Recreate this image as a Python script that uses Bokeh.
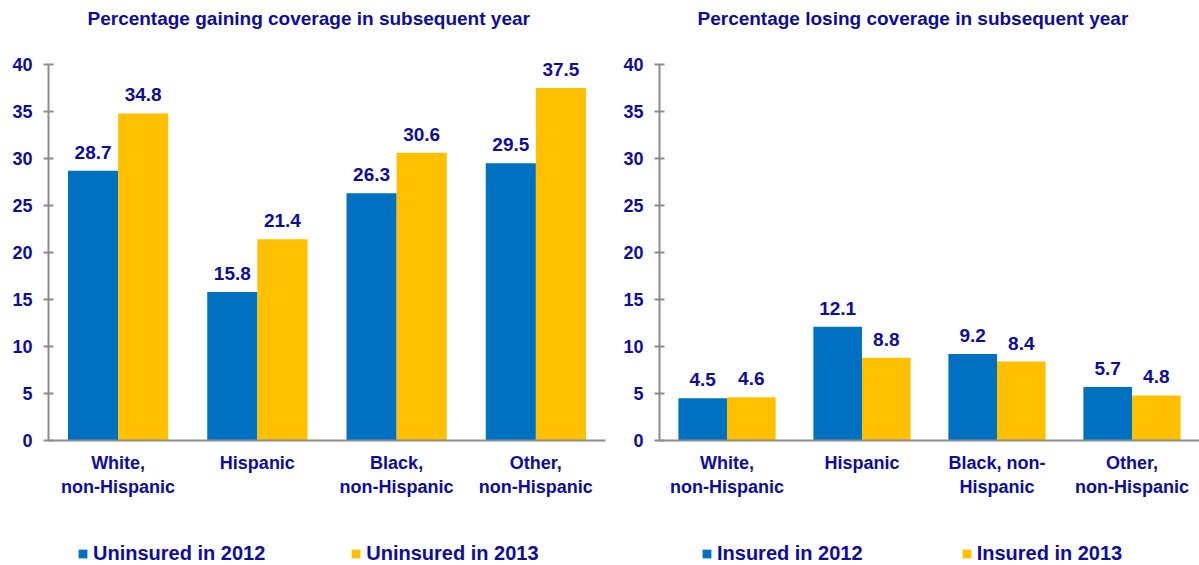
from bokeh.plotting import figure
from bokeh.models import (FactorRange, Range1d, FixedTicker, LabelSet, Label,
                          Legend, LegendItem, ColumnDataSource)
from bokeh.core.properties import value
from bokeh.transform import dodge
from bokeh.layouts import row, column
from bokeh.embed import file_html
from bokeh.resources import INLINE

# ---------------- data ----------------
categories_gain = ["White,\nnon-Hispanic", "Hispanic", "Black,\nnon-Hispanic", "Other,\nnon-Hispanic"]
categories_lose = ["White,\nnon-Hispanic", "Hispanic", "Black, non-\nHispanic", "Other,\nnon-Hispanic"]
uninsured_2012 = [28.7, 15.8, 26.3, 29.5]
uninsured_2013 = [34.8, 21.4, 30.6, 37.5]
insured_2012 = [4.5, 12.1, 9.2, 5.7]
insured_2013 = [4.6, 8.8, 8.4, 4.8]
y_ticks = [0, 5, 10, 15, 20, 25, 30, 35, 40]
title_gain = "Percentage gaining coverage in subsequent year"
title_lose = "Percentage losing coverage in subsequent year"
legend_gain = ["Uninsured in 2012", "Uninsured in 2013"]
legend_lose = ["Insured in 2012", "Insured in 2013"]

# ---------------- style / layout ----------------
FONT = "Liberation Sans"
NAVY = "#0C0C9E"
BLUE = "#0070C0"
GOLD = "#FFC000"
GRAY = "#8C8C8C"
H_MAIN = 530          # chart figures
H_LEG = 35            # legend strip below
FRAME_H = 440         # frame spans canvas top .. x-axis
PX_PER_UNIT = 376 / 40
Y_TOP = FRAME_H / PX_PER_UNIT
TITLE_Y = (FRAME_H - 18) / PX_PER_UNIT


def make_panel(cats, v12, v13, title, width, b_left, b_right, frame_w, title_px):
    src = ColumnDataSource(dict(cat=cats, v12=v12, v13=v13,
                                t12=[f"{v:.1f}" for v in v12],
                                t13=[f"{v:.1f}" for v in v13]))
    p = figure(x_range=FactorRange(*cats), y_range=Range1d(0, Y_TOP),
               width=width, height=H_MAIN, output_backend="svg", toolbar_location=None,
               min_border_left=b_left, min_border_right=b_right,
               min_border_top=0, min_border_bottom=H_MAIN - FRAME_H)
    p.background_fill_color = "white"
    p.border_fill_color = "white"
    p.outline_line_color = None
    p.xgrid.grid_line_color = None
    p.ygrid.grid_line_color = None

    p.vbar(x=dodge("cat", -0.18, range=p.x_range), top="v12", width=0.36,
           source=src, fill_color=BLUE, line_color=None)
    p.vbar(x=dodge("cat", 0.18, range=p.x_range), top="v13", width=0.36,
           source=src, fill_color=GOLD, line_color=None)

    for off, vcol, tcol in ((-0.18, "v12", "t12"), (0.18, "v13", "t13")):
        ls = LabelSet(x=dodge("cat", off, range=p.x_range), y=vcol,
                      text=tcol, source=src, text_align="center",
                      text_baseline="alphabetic", y_offset=12,
                      text_font=value(FONT), text_font_size=value("19px"),
                      text_font_style=value("bold"), text_color=value(NAVY))
        p.add_layout(ls)

    # y axis
    ya = p.yaxis[0]
    ya.bounds = (0, 40)
    ya.ticker = FixedTicker(ticks=y_ticks)
    ya.major_tick_in = 5
    ya.major_tick_out = 5
    ya.minor_tick_in = 0
    ya.minor_tick_out = 0
    ya.axis_line_color = GRAY
    ya.axis_line_width = 2
    ya.major_tick_line_color = GRAY
    ya.major_tick_line_width = 2
    ya.major_label_standoff = 11
    ya.major_label_text_font = FONT
    ya.major_label_text_font_size = "18px"
    ya.major_label_text_font_style = "bold"
    ya.major_label_text_color = NAVY

    # x axis
    xa = p.xaxis[0]
    xa.major_tick_in = 0
    xa.major_tick_out = 0
    xa.axis_line_color = GRAY
    xa.axis_line_width = 2
    xa.major_label_standoff = 12
    xa.major_label_text_font = FONT
    xa.major_label_text_font_size = "18px"
    xa.major_label_text_font_style = "bold"
    xa.major_label_text_color = NAVY
    xa.major_label_text_line_height = 1.2

    # chart title, drawn inside the (tall) frame above the 40 tick
    t = Label(x=title_px / (frame_w / len(cats)), y=TITLE_Y, text=title,
              text_align="left", text_baseline="alphabetic",
              text_font=FONT, text_font_size="19px", text_font_style="bold",
              text_color=NAVY)
    p.add_layout(t)
    return p


p1 = make_panel(categories_gain, uninsured_2012, uninsured_2013, title_gain,
                width=618, b_left=48, b_right=13, frame_w=557, title_px=39)
p2 = make_panel(categories_lose, insured_2012, insured_2013, title_lose,
                width=581, b_left=41, b_right=0, frame_w=540, title_px=38)

# legend strip (swatch renderers sit outside the visible range, zero height)
lg = figure(width=1199, height=H_LEG, x_range=Range1d(0, 1), y_range=Range1d(0, 1),
            x_axis_location=None, y_axis_location=None, min_border=0,
            output_backend="svg", toolbar_location=None)
lg.outline_line_color = None
lg.background_fill_color = "white"
lg.border_fill_color = "white"
lg.xgrid.visible = False
lg.ygrid.visible = False
rb = lg.vbar(x=[-5], top=[0], width=1, fill_color=BLUE, line_color=None)
ry = lg.vbar(x=[-5], top=[0], width=1, fill_color=GOLD, line_color=None)


def add_legend(labels, x0, spacing):
    leg = Legend(items=[LegendItem(label=labels[0], renderers=[rb]),
                        LegendItem(label=labels[1], renderers=[ry])],
                 orientation="horizontal", location=(x0, 0),
                 border_line_color=None, background_fill_alpha=0,
                 padding=0, margin=0, glyph_width=11, glyph_height=11,
                 label_standoff=5, spacing=spacing,
                 label_text_font=FONT, label_text_font_size="20px",
                 label_text_font_style="bold", label_text_color=NAVY)
    lg.add_layout(leg)


add_legend(legend_gain, 77, 85)
add_legend(legend_lose, 701, 98)

layout = column(row(p1, p2), lg)
open("out.html", "w").write(file_html(layout, INLINE, title="Coverage transitions"))
